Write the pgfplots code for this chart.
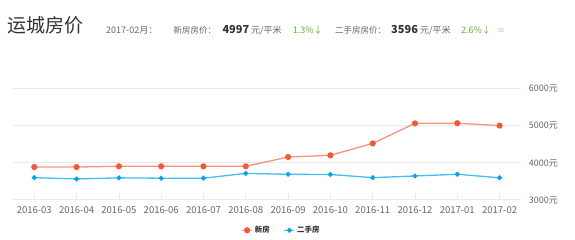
\documentclass[border=0pt]{standalone}
\usepackage{pgfplots}
\pgfplotsset{compat=1.18}
\usepackage{fontspec}
\setmainfont{Noto Sans CJK SC}
\definecolor{newred}{HTML}{F05A3A}
\definecolor{newredline}{HTML}{F7937D}
\definecolor{oldblue}{HTML}{0AA3E6}
\definecolor{oldblueline}{HTML}{45BDEF}
\definecolor{gridc}{HTML}{EBEBEB}
\definecolor{txtgray}{HTML}{666666}
\definecolor{txtdark}{HTML}{333333}
\definecolor{upgreen}{HTML}{5DB834}
\begin{document}
\begin{tikzpicture}
\path[use as bounding box] (0,0) rectangle (575pt,240pt);
\begin{axis}[
  at={(13.15pt,40pt)}, anchor=south west,
  scale only axis, width=507.6pt, height=111.7pt,
  xmin=-0.5, xmax=11.5, ymin=3000, ymax=6000,
  axis line style={draw=none},
  ytick={3000,4000,5000,6000},
  yticklabels={3000元,4000元,5000元,6000元},
  yticklabel pos=right,
  ymajorgrids, grid style={gridc, line width=1pt},
  ytick style={draw=none},
  xtick={0,...,11},
  xticklabels={2016-03,2016-04,2016-05,2016-06,2016-07,2016-08,2016-09,2016-10,2016-11,2016-12,2017-01,2017-02},
  xtick pos=bottom, xtick align=inside,
  major tick length=7pt,
  xtick style={gridc, line width=0.8pt},
  /pgf/number format/assume math mode=true,
  xticklabel style={font=\fontsize{9.5pt}{10pt}\selectfont, text=txtgray, anchor=base, yshift=-13.5pt, inner sep=0pt},
  yticklabel style={font=\fontsize{9pt}{10pt}\selectfont, text=txtgray, anchor=base west, xshift=8pt, yshift=-3.3pt, inner sep=0pt},
  legend style={at={(0.5287,-0.271)}, anchor=center, draw=none, fill=none,
    font=\fontsize{7.5pt}{8pt}\selectfont\bfseries, text=txtdark,
    /tikz/every even column/.append style={column sep=12pt},
    inner sep=0pt},
  legend columns=2,
  legend image code/.code={\draw[mark repeat=2,mark phase=2,#1] plot coordinates {(0pt,0pt) (5pt,0pt) (10pt,0pt)};},
  clip=false,
]
\addplot[newredline, line width=1.3pt, mark=*, mark options={newred, draw=newred, fill=newred}, mark size=2.4pt]
coordinates {(0,3885) (1,3885) (2,3905) (3,3905) (4,3905) (5,3905) (6,4155) (7,4200) (8,4520) (9,5058) (10,5063) (11,4997)};
\addlegendentry{新房}
\addplot[oldblueline, line width=1.3pt, mark=*, mark options={oldblue, draw=oldblue, fill=oldblue}, mark size=1.8pt]
coordinates {(0,3600) (1,3565) (2,3595) (3,3585) (4,3585) (5,3715) (6,3690) (7,3685) (8,3600) (9,3645) (10,3692) (11,3596)};
\addlegendentry{二手房}
\end{axis}
\node[anchor=base west, inner sep=0pt, text=txtdark, font=\fontsize{19pt}{20pt}\selectfont] at (7.3pt,207pt) {运城房价};
\node[anchor=base west, inner sep=0pt, text=txtgray, font=\fontsize{9pt}{10pt}\selectfont] at (106pt,206.7pt) {2017-02月：};
\node[anchor=base west, inner sep=0pt, text=txtgray, font=\fontsize{8.5pt}{10pt}\selectfont] at (173.3pt,206.7pt) {新房房价：};
\node[anchor=base west, inner sep=0pt, text=txtdark, font=\fontsize{11pt}{12pt}\selectfont\bfseries] at (222.3pt,206.7pt) {4997};
\node[anchor=base west, inner sep=0pt, text=txtgray, font=\fontsize{9pt}{10pt}\selectfont] at (251pt,206.7pt) {元/平米};
\node[anchor=base west, inner sep=0pt, text=upgreen, font=\fontsize{9pt}{10pt}\selectfont] at (292.7pt,206.7pt) {1.3\%↓};
\node[anchor=base west, inner sep=0pt, text=txtgray, font=\fontsize{8.5pt}{10pt}\selectfont] at (335pt,206.7pt) {二手房房价：};
\node[anchor=base west, inner sep=0pt, text=txtdark, font=\fontsize{11pt}{12pt}\selectfont\bfseries] at (391pt,206.7pt) {3596};
\node[anchor=base west, inner sep=0pt, text=txtgray, font=\fontsize{9pt}{10pt}\selectfont] at (420pt,206.7pt) {元/平米};
\node[anchor=base west, inner sep=0pt, text=upgreen, font=\fontsize{9pt}{10pt}\selectfont] at (461pt,206.7pt) {2.6\%↓};
\node[anchor=base west, inner sep=0pt, text=black!25, font=\fontsize{8pt}{10pt}\selectfont] at (497pt,206.7pt) {≡};
\end{tikzpicture}
\end{document}
